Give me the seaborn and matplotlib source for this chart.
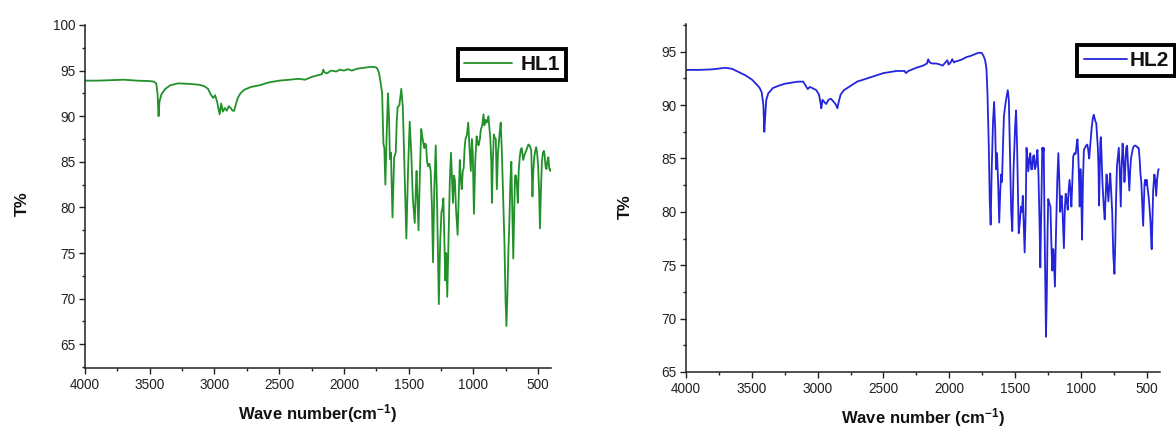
import matplotlib
matplotlib.use("Agg")
import matplotlib.pyplot as plt
import seaborn as sns
from matplotlib.ticker import AutoMinorLocator

# ---------------- data ----------------
hl1_wavenumber = [
    4000, 3900, 3800, 3700, 3600, 3500, 3470, 3450, 3440, 3432, 3425, 3410,
    3380, 3340, 3280, 3200, 3120, 3080, 3050, 3030, 3010, 2995, 2980, 2970,
    2960, 2948, 2935, 2920, 2905, 2890, 2875, 2860, 2848, 2835, 2820, 2800,
    2770, 2720, 2650, 2580, 2500, 2420, 2350, 2300, 2250, 2200, 2170, 2160,
    2150, 2130, 2100, 2060, 2030, 2000, 1970, 1940, 1900, 1850, 1800, 1770,
    1745, 1730, 1720, 1712,
    1705, 1695, 1688, 1680, 1670, 1660, 1652, 1645, 1637, 1625, 1612, 1600,
    1592, 1585, 1572, 1557, 1545, 1530, 1518, 1505, 1492, 1480, 1468, 1453,
    1445, 1439, 1432, 1424, 1413, 1403, 1392, 1380, 1372, 1365, 1358, 1350,
    1340, 1330, 1320, 1312, 1302, 1291, 1280, 1267, 1257, 1247, 1240, 1232,
    1224, 1217, 1210, 1202, 1190, 1182, 1173, 1165, 1158, 1150, 1143, 1135,
    1122, 1112, 1105, 1097, 1090, 1082, 1075, 1068, 1061, 1050, 1040, 1030,
    1020, 1012, 1005, 996, 986, 975, 965, 960, 950, 943, 932, 922,
    915, 907, 896, 884, 875, 869, 862, 857, 850, 842, 834, 827,
    819, 810, 804, 795, 789, 780, 770, 760, 752, 745, 738, 730,
    722, 714, 707, 700, 692, 684, 678, 671, 664, 657, 650, 642,
    635, 627, 615, 605, 598, 585, 575, 568, 560, 553, 544, 537,
    530, 522, 515, 508, 500, 493, 486, 478, 471, 463, 456, 450,
    443, 436, 429, 421, 414, 406, 400,
]
hl1_transmittance = [
    93.9, 93.9, 93.95, 94.0, 93.9, 93.85, 93.8, 93.6, 92.5, 90.0, 91.6, 92.4,
    93.0, 93.4, 93.6, 93.55, 93.45, 93.3, 93.0, 92.4, 92.0, 92.3, 91.6, 90.9,
    90.2, 91.4, 90.5, 90.9, 90.6, 91.1, 90.9, 90.6, 90.6, 91.3, 92.0, 92.5,
    92.9, 93.2, 93.4, 93.7, 93.9, 94.0, 94.1, 94.0, 94.3, 94.5, 94.6, 95.1,
    94.8, 94.7, 95.0, 94.9, 95.1, 95.0, 95.15, 95.0, 95.2, 95.3, 95.4, 95.4,
    95.3, 94.8, 94.0, 93.2,
    92.5, 87.0, 86.5, 82.5, 88.0, 92.5, 90.0, 85.3, 86.0, 78.9, 85.5, 86.0,
    89.5, 91.0, 91.2, 93.0, 91.0, 83.0, 76.6, 84.0, 89.4, 86.0, 81.0, 78.3,
    82.0, 84.0, 81.0, 77.5, 84.0, 88.6, 87.5, 86.5, 87.0, 86.8, 85.0, 84.5,
    84.8, 84.0, 80.0, 74.0, 82.0, 86.8, 80.0, 69.4, 76.0, 79.5, 79.8, 81.0,
    76.0, 72.0, 75.0, 70.2, 78.0, 83.0, 86.0, 83.0, 80.5, 83.5, 83.0, 80.0,
    77.0, 82.0, 85.2, 83.0, 82.0, 84.0, 84.3, 86.5, 87.5, 88.0, 89.3, 86.5,
    84.0, 87.5, 86.0, 79.3, 85.0, 87.8, 87.0, 86.8, 87.5, 88.5, 89.0, 90.2,
    89.0, 89.6, 89.3, 90.0, 88.5, 87.5, 85.0, 80.5, 85.0, 88.0, 87.6, 87.5,
    82.0, 86.0, 87.0, 88.5, 89.3, 86.0, 81.0, 76.0, 70.0, 67.0, 70.0, 75.0,
    78.5, 83.0, 85.0, 80.0, 74.4, 80.0, 83.5, 83.5, 82.5, 80.5, 84.0, 85.5,
    86.3, 86.5, 85.2, 85.8, 86.0, 86.5, 86.9, 86.8, 86.6, 86.2, 81.2, 84.0,
    85.5, 86.2, 86.6, 86.0, 84.5, 82.0, 77.7, 82.0, 85.0, 86.0, 86.2, 85.8,
    84.5, 84.2, 85.0, 85.5, 84.3, 84.0, 84.2,
]

hl2_wavenumber = [
    4000, 3900, 3800, 3700, 3650, 3600, 3550, 3500, 3460, 3440, 3425, 3412,
    3405, 3398, 3390, 3375, 3340, 3300, 3250, 3200, 3150, 3110, 3090, 3075,
    3060, 3040, 3010, 2990, 2978, 2972, 2963, 2950, 2935, 2918, 2900, 2885,
    2870, 2860, 2850, 2840, 2825, 2800, 2750, 2700, 2650, 2600, 2550, 2500,
    2450, 2400, 2340, 2330, 2310, 2250, 2200, 2170, 2160, 2150, 2130, 2100,
    2070, 2050, 2030, 2015, 2005, 1990, 1978, 1965, 1950, 1920, 1900, 1870,
    1840, 1800, 1780, 1755, 1740, 1728, 1718, 1710,
    1700, 1693, 1686, 1678, 1668, 1660, 1652, 1645, 1638, 1630, 1621, 1613,
    1607, 1600, 1593, 1585, 1575, 1565, 1556, 1548, 1540, 1530, 1522, 1512,
    1500, 1493, 1485, 1478, 1473, 1465, 1456, 1448, 1442, 1435, 1428, 1420,
    1414, 1407, 1400, 1392, 1385, 1378, 1371, 1364, 1357, 1350, 1343, 1337,
    1331, 1323, 1315, 1309, 1302, 1294, 1288, 1283, 1278, 1271, 1266, 1260,
    1254, 1249, 1240, 1232, 1225, 1218, 1213, 1209, 1204, 1198, 1190, 1180,
    1172, 1165, 1158, 1152, 1147, 1140, 1130, 1122, 1116, 1108, 1101, 1094,
    1087, 1080, 1073, 1066, 1059, 1050, 1045, 1039, 1033, 1027, 1021, 1016,
    1010, 1004, 998, 992, 985, 978, 970, 962, 952, 945, 938, 928,
    918, 910, 903, 897, 891, 884, 877, 872, 867, 863, 857, 853,
    849, 843, 838, 834, 827, 820, 813, 806, 800, 792, 785, 778,
    771, 763, 755, 746, 740, 734, 727, 720, 713, 706, 698, 692,
    684, 677, 670, 664, 657, 650, 643, 637, 633, 626, 620, 613,
    605, 595, 585, 575, 568, 562, 555, 548, 542, 536, 528, 522,
    518, 514, 507, 501, 494, 487, 480, 472, 466, 463, 458, 452,
    446, 443, 436, 429, 422, 415, 410,
]
hl2_transmittance = [
    93.3, 93.3, 93.35, 93.5, 93.4, 93.1, 92.8, 92.4, 91.9, 91.6, 91.2, 90.0,
    87.5, 89.0, 90.5, 91.1, 91.6, 91.8, 92.0, 92.1, 92.2, 92.2, 91.8, 91.5,
    91.7, 91.6, 91.4, 91.0, 90.2, 89.7, 90.5, 90.3, 90.1, 90.5, 90.6, 90.4,
    90.2, 90.0, 89.7, 90.3, 91.0, 91.4, 91.8, 92.2, 92.4, 92.6, 92.8, 93.0,
    93.1, 93.2, 93.2, 93.0, 93.2, 93.5, 93.7, 93.9, 94.3, 94.0, 93.9, 93.9,
    93.8, 93.7, 94.0, 94.2, 93.8, 94.0, 94.3, 94.0, 94.1, 94.2, 94.3, 94.5,
    94.6, 94.8, 94.9, 94.9, 94.6, 94.2, 93.4, 91.0,
    86.0, 81.0, 78.8, 84.0, 88.5, 90.3, 88.0, 84.0, 85.5, 83.0, 79.0, 82.0,
    83.5, 82.8, 86.0, 89.0, 90.0, 90.8, 91.4, 90.5, 86.0, 80.0, 78.2, 84.0,
    88.0, 89.5, 86.0, 81.0, 78.0, 79.0, 80.5, 80.0, 81.5, 79.0, 76.2, 80.0,
    86.0, 85.0, 83.8, 85.0, 85.5, 84.0, 84.0, 85.2, 85.3, 84.0, 84.3, 85.0,
    85.8, 83.5, 79.0, 74.8, 80.0, 86.0, 85.5, 86.0, 80.0, 73.0, 68.3, 72.0,
    78.0, 81.2, 80.8, 80.5, 77.0, 74.5, 76.5, 76.5, 75.0, 73.0, 78.0, 83.0,
    85.5, 83.0, 80.0, 81.0, 81.5, 80.0, 76.6, 80.5, 81.7, 81.0, 80.2, 82.0,
    83.0, 82.0, 80.5, 83.0, 85.2, 85.5, 85.4, 85.5, 86.3, 86.8, 85.5, 83.5,
    80.5, 84.0, 82.0, 77.4, 83.0, 85.8, 86.0, 86.2, 86.3, 85.8, 85.0, 86.5,
    88.0, 88.8, 89.1, 88.8, 88.5, 88.3, 87.0, 86.0, 84.0, 80.6, 84.0, 86.5,
    87.0, 85.0, 83.0, 82.0, 80.5, 79.3, 81.5, 83.5, 82.5, 81.0, 82.5, 83.6,
    82.0, 80.0, 76.0, 74.2, 77.0, 81.0, 84.3, 85.2, 86.0, 84.0, 80.5, 84.0,
    86.4, 85.0, 82.8, 84.0, 86.0, 86.2, 84.5, 83.0, 82.0, 84.0, 85.0, 85.5,
    86.0, 86.2, 86.2, 86.1, 86.0, 86.0, 85.0, 83.5, 82.8, 81.0, 78.7, 81.0,
    82.5, 83.0, 82.5, 83.0, 82.2, 81.5, 80.5, 79.0, 77.0, 76.5, 79.0, 82.0,
    83.0, 83.5, 83.0, 81.5, 83.0, 83.8, 84.0,
]

x_ticks = [4000, 3500, 3000, 2500, 2000, 1500, 1000, 500]
hl1_yticks = [65, 70, 75, 80, 85, 90, 95, 100]
hl2_yticks = [65, 70, 75, 80, 85, 90, 95]

assert len(hl1_wavenumber) == len(hl1_transmittance)
assert len(hl2_wavenumber) == len(hl2_transmittance)

# ---------------- style ----------------
sns.set_style("ticks")
plt.rcParams["font.family"] = ["Liberation Sans", "DejaVu Sans"]
plt.rcParams["mathtext.default"] = "regular"

fig = plt.figure(figsize=(11.76, 4.30), dpi=100)
ax1 = fig.add_axes([0.0723, 0.1442, 0.3963, 0.7977])
ax2 = fig.add_axes([0.5833, 0.1349, 0.4031, 0.8093])

panels = [
    dict(ax=ax1, wn=hl1_wavenumber, tr=hl1_transmittance, col="#22912a", lab="HL1",
         ylim=(62.4, 100), yticks=hl1_yticks, xlab="Wave number(cm$^{-1}$)",
         ylc=(-0.119, 0.48), xlc=(0.5, -0.100), lgpos=(1.032, 0.930),
         hl=2.3, htp=0.4),
    dict(ax=ax2, wn=hl2_wavenumber, tr=hl2_transmittance, col="#2424dc", lab="HL2",
         ylim=(65, 97.6), yticks=hl2_yticks, xlab="Wave number (cm$^{-1}$)",
         ylc=(-0.111, 0.474), xlc=(0.5, -0.098), lgpos=(1.0316, 0.940),
         hl=2.1, htp=0.1),
]

for p in panels:
    ax = p["ax"]
    sns.lineplot(x=p["wn"], y=p["tr"], ax=ax, color=p["col"], linewidth=1.3,
                 sort=False, estimator=None, label=p["lab"])
    ax.set_xlim(4000, 400)
    ax.set_ylim(*p["ylim"])
    ax.set_xticks(x_ticks)
    ax.set_yticks(p["yticks"])
    ax.xaxis.set_minor_locator(AutoMinorLocator(2))
    ax.yaxis.set_minor_locator(AutoMinorLocator(2))
    ax.tick_params(which="major", direction="out", length=4, width=1.0,
                   labelsize=9.8, colors="#222222", pad=3)
    ax.tick_params(which="minor", direction="out", length=2.5, width=1.0,
                   colors="#222222")
    for s in ["left", "bottom"]:
        ax.spines[s].set_linewidth(1.1)
        ax.spines[s].set_color("#222222")
    sns.despine(ax=ax)
    ax.set_xlabel(p["xlab"], fontsize=12, fontweight="bold", color="#111111")
    ax.set_ylabel("T%", fontsize=12, fontweight="bold", color="#111111")
    ax.yaxis.set_label_coords(*p["ylc"])
    ax.xaxis.set_label_coords(*p["xlc"])
    leg = ax.legend(loc="upper right", bbox_to_anchor=p["lgpos"], frameon=True,
                    fancybox=False, framealpha=1, edgecolor="black",
                    prop={"weight": "bold", "size": 15, "family": "Liberation Sans"},
                    handlelength=p["hl"], handletextpad=p["htp"], borderpad=0.3,
                    borderaxespad=0)
    leg.get_frame().set_linewidth(2.8)
    for t in leg.get_texts():
        t.set_color("#111111")
    for h in leg.get_lines():
        h.set_linewidth(1.3)

fig.savefig("out.png", dpi=100)
